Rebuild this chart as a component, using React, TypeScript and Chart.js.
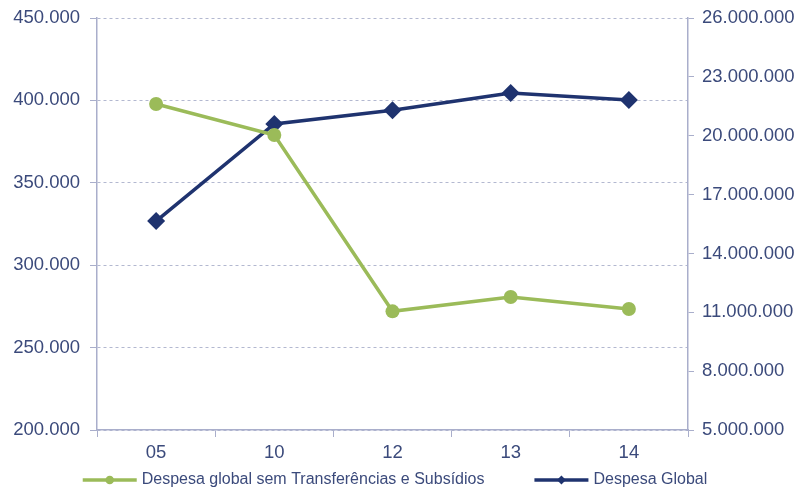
import React, { useEffect, useRef } from "react";
import { Chart, registerables } from "chart.js";

Chart.register(...registerables);

const categories = ["05", "10", "12", "13", "14"];
const seriesNoTransfers = [397800, 379000, 272000, 280700, 273400];
const seriesGlobal = [15650000, 20600000, 21300000, 22180000, 21820000];
const leftTicks = { min: 200000, max: 450000, step: 50000 };
const rightTicks = { min: 5000000, max: 26000000, step: 3000000 };
const labelNoTransfers = "Despesa global sem Transferências e Subsídios";
const labelGlobal = "Despesa Global";

const GREEN = "#9bbb59";
const NAVY = "#1f336f";
const TEXT = "#3b4a7b";
const AXIS = "#a9aecb";
const GRID = "#b3b8d0";
const FONT = "'Liberation Sans', Arial, sans-serif";

function fmt(v: number) {
  return String(Math.round(v)).replace(/\B(?=(\d{3})+(?!\d))/g, ".");
}

const bottomLegend = {
  id: "bottomLegend",
  afterDraw(chart: any) {
    const ctx: CanvasRenderingContext2D = chart.ctx;
    const ds = chart.data.datasets;
    const iconW = 54;
    const gapText = 5;
    const gapItem = 50;
    const y = 480;
    ctx.save();
    ctx.font = `16px ${FONT}`;
    const widths = ds.map((d: any) => ctx.measureText(d.label).width);
    let total = 0;
    widths.forEach((w: number, i: number) => {
      total += iconW + gapText + w + (i > 0 ? gapItem : 0);
    });
    let x = 395 - total / 2;
    ds.forEach((d: any, i: number) => {
      const color = d.borderColor;
      ctx.strokeStyle = color;
      ctx.fillStyle = color;
      ctx.lineWidth = 3.5;
      ctx.setLineDash([]);
      ctx.beginPath();
      ctx.moveTo(x, y);
      ctx.lineTo(x + iconW, y);
      ctx.stroke();
      const cx = x + iconW / 2;
      ctx.beginPath();
      if (d.pointStyle === "circle") {
        ctx.arc(cx, y, 4.3, 0, Math.PI * 2);
      } else {
        ctx.moveTo(cx, y - 4.5);
        ctx.lineTo(cx + 4.5, y);
        ctx.lineTo(cx, y + 4.5);
        ctx.lineTo(cx - 4.5, y);
        ctx.closePath();
      }
      ctx.fill();
      ctx.fillStyle = TEXT;
      ctx.textBaseline = "middle";
      ctx.textAlign = "left";
      ctx.fillText(d.label, x + iconW + gapText, y);
      x += iconW + gapText + widths[i] + gapItem;
    });
    ctx.restore();
  },
};

export default function App() {
  const ref = useRef<HTMLCanvasElement | null>(null);

  useEffect(() => {
    document.body.style.margin = "0";
    const chart = new Chart(ref.current!, {
      type: "line",
      data: {
        labels: categories,
        datasets: [
          {
            label: labelNoTransfers,
            data: seriesNoTransfers,
            yAxisID: "y",
            borderColor: GREEN,
            backgroundColor: GREEN,
            borderWidth: 3.5,
            pointStyle: "circle",
            pointRadius: 7,
            pointBorderWidth: 0,
            tension: 0,
          },
          {
            label: labelGlobal,
            data: seriesGlobal,
            yAxisID: "y1",
            borderColor: NAVY,
            backgroundColor: NAVY,
            borderWidth: 3.5,
            pointStyle: "rectRot",
            pointRadius: 9,
            pointBorderWidth: 0,
            tension: 0,
          },
        ],
      },
      plugins: [bottomLegend],
      options: {
        animation: false,
        responsive: true,
        maintainAspectRatio: false,
        layout: { autoPadding: false, padding: { top: 18, left: 0, right: 0, bottom: 23 } },
        plugins: {
          tooltip: { enabled: false },
          legend: { display: false },
        },
        scales: {
          x: {
            offset: true,
            grid: {
              offset: true,
              drawOnChartArea: false,
              drawTicks: true,
              tickLength: 7,
              color: AXIS,
            },
            border: { color: AXIS, width: 1.5 },
            ticks: {
              font: { family: FONT, size: 18.5 },
              color: TEXT,
              padding: 5,
            },
            afterFit: (s: any) => {
              s.height = 40;
              s.paddingLeft = 0;
              s.paddingRight = 0;
            },
          },
          y: {
            position: "left",
            min: leftTicks.min,
            max: leftTicks.max,
            ticks: {
              stepSize: leftTicks.step,
              font: { family: FONT, size: 18.5 },
              color: TEXT,
              padding: 10,
              callback: (v: any) => fmt(Number(v)),
            },
            grid: {
              color: GRID,
              lineWidth: 1,
              tickLength: 7,
              tickColor: AXIS,
              tickBorderDash: [],
            },
            border: { color: AXIS, width: 1.5, dash: [3, 3] },
            afterFit: (s: any) => {
              s.width = 97;
              s.paddingTop = 0;
              s.paddingBottom = 0;
            },
          },
          y1: {
            position: "right",
            min: rightTicks.min,
            max: rightTicks.max,
            ticks: {
              stepSize: rightTicks.step,
              font: { family: FONT, size: 18.5 },
              color: TEXT,
              padding: 8,
              callback: (v: any) => fmt(Number(v)),
            },
            grid: {
              drawOnChartArea: false,
              tickLength: 6,
              color: AXIS,
            },
            border: { color: AXIS, width: 1.5 },
            afterFit: (s: any) => {
              s.width = 114;
              s.paddingTop = 0;
              s.paddingBottom = 0;
            },
          },
        },
      },
    });
    return () => chart.destroy();
  }, []);

  return (
    <div style={{ position: "fixed", left: 0, top: 0, width: 802, height: 493, background: "#fff" }}>
      <canvas ref={ref} />
    </div>
  );
}
